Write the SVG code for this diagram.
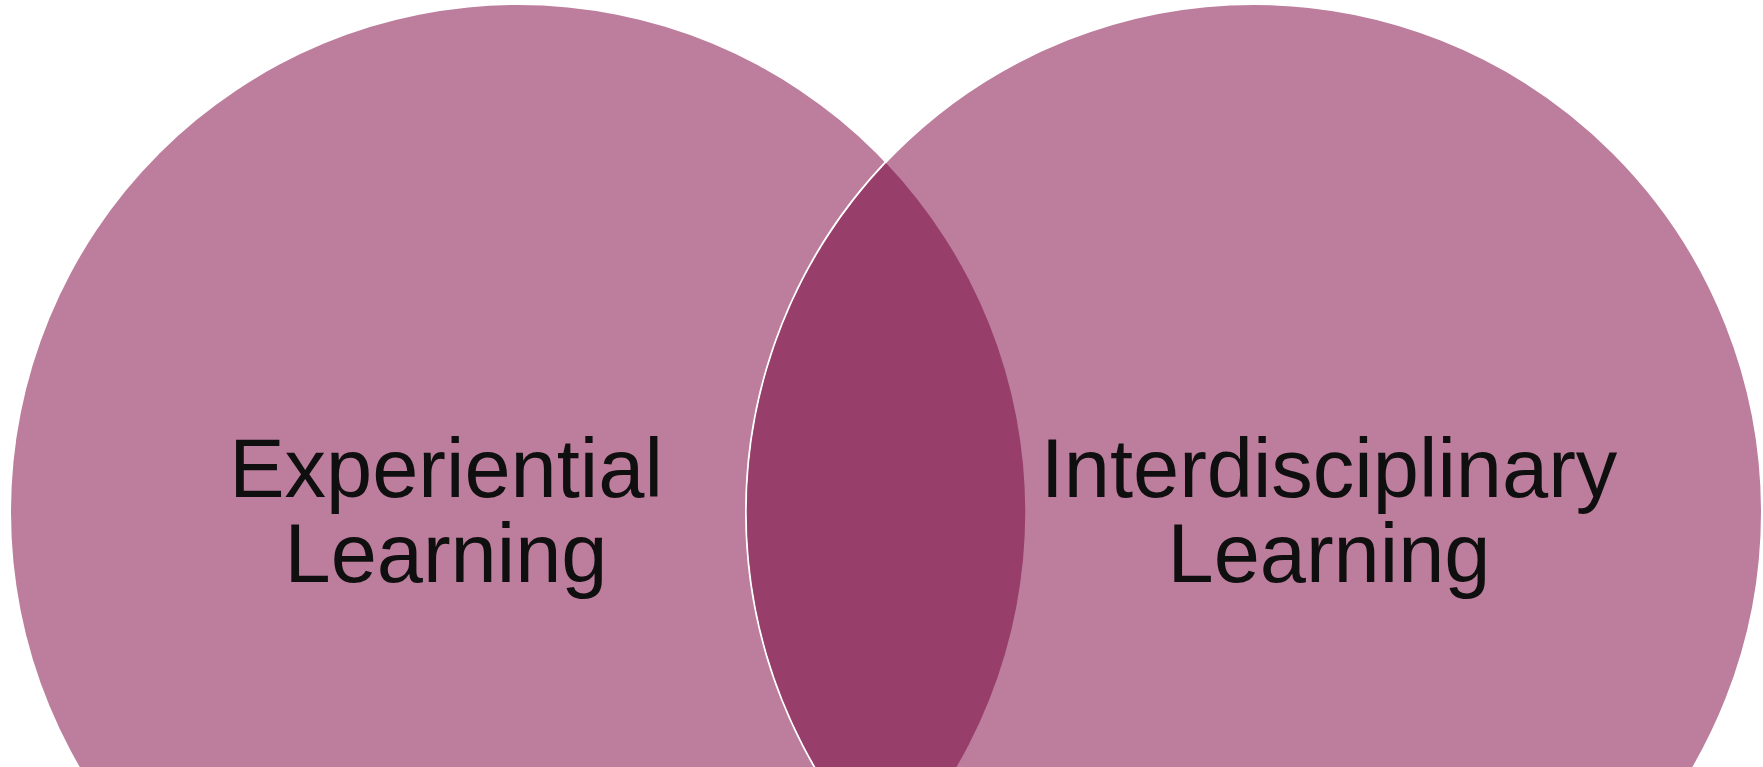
<svg xmlns="http://www.w3.org/2000/svg" width="1763" height="767" viewBox="0 0 1763 767">
<style>
.c{fill:#BC7E9C}
.lens{fill:#983E6A}
.t{font-family:"Liberation Sans",Arial,sans-serif;font-size:83px;fill:#0F0F0F;text-anchor:middle}
</style>
<rect width="1763" height="767" fill="#FFFFFF"/>
<g id="experiential">
<circle class="c" cx="518" cy="512" r="507"/>
</g>
<g id="interdisciplinary">
<circle class="c" cx="1254" cy="512" r="508" stroke="#FFFFFF" stroke-width="2"/>
</g>
<g id="overlap">
<path class="lens" d="M886 163 A507 507 0 0 0 886 861 A507 507 0 0 0 886 163 Z"/>
</g>
<g id="labels">
<text class="t" x="446" y="497">Experiential</text>
<text class="t" x="446" y="582">Learning</text>
<text class="t" x="1329" y="497">Interdisciplinary</text>
<text class="t" x="1329" y="582">Learning</text>
</g>
<g id="connectors"/>
</svg>
